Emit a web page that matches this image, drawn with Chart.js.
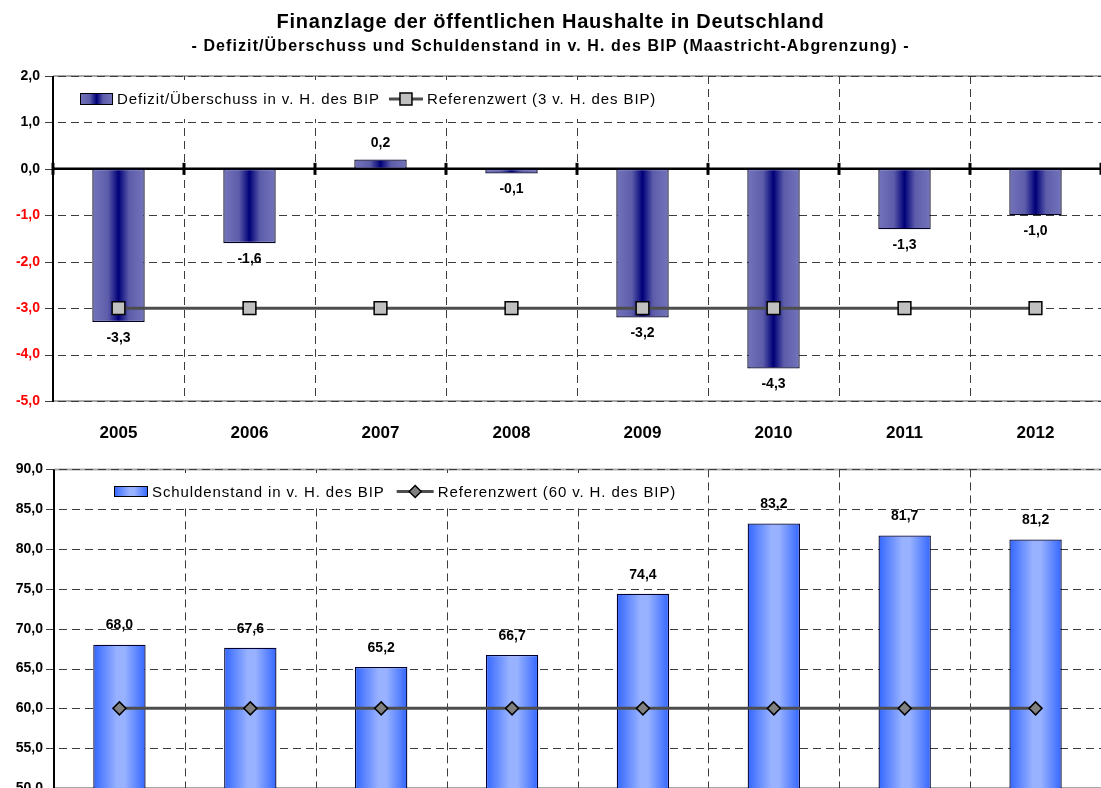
<!DOCTYPE html>
<html><head><meta charset="utf-8">
<script src="https://cdn.jsdelivr.net/npm/chart.js@4.4.1/dist/chart.umd.min.js"></script>
<style>
html,body{margin:0;padding:0;background:#fff;}
#wrap{position:relative;width:1101px;height:788px;overflow:hidden;background:#fff;}
canvas{position:absolute;left:0;display:block;}
#c1{top:0}
#c2{top:450px}
</style></head><body>
<div id="wrap"><canvas id="c1" width="1101" height="450"></canvas><canvas id="c2" width="1101" height="388"></canvas></div>
<script>
const FONT = '"Liberation Sans", Arial, Helvetica, sans-serif';

// ---- data ----
const years = ['2005', '2006', '2007', '2008', '2009', '2010', '2011', '2012'];
const deficitValues = [-3.3, -1.6, 0.2, -0.1, -3.2, -4.3, -1.3, -1.0];
const deficitReference = [-3, -3, -3, -3, -3, -3, -3, -3];
const debtValues = [68.0, 67.6, 65.2, 66.7, 74.4, 83.2, 81.7, 81.2];
const debtReference = [60, 60, 60, 60, 60, 60, 60, 60];
const deficitTicks = [2, 1, 0, -1, -2, -3, -4, -5];
const debtTicks = [90, 85, 80, 75, 70, 65, 60, 55, 50];
const titleText = 'Finanzlage der öffentlichen Haushalte in Deutschland';
const subtitleText = '- Defizit/Überschuss und Schuldenstand in v. H. des BIP (Maastricht-Abgrenzung) -';
const deficitLegend = ['Defizit/Überschuss in v. H. des BIP', 'Referenzwert (3 v. H. des BIP)'];
const debtLegend = ['Schuldenstand in v. H. des BIP', 'Referenzwert (60 v. H. des BIP)'];

// ---- styles ----
const navyStops = [[0, '#7474BC'], [0.3, '#5C5CAA'], [0.5, '#000078'], [0.7, '#5C5CAA'], [1, '#7474BC']];
const blueStops = [[0, '#3366FF'], [0.45, '#98B2FF'], [0.6, '#98B2FF'], [1, '#3366FF']];
const fmt = v => v.toFixed(1).replace('.', ',');

function barGradient(stops) {
  return function (c) {
    const chart = c.chart;
    if (!chart.chartArea || c.type !== 'data') return stops[2][1];
    const xs = chart.scales.x;
    const cx = xs.getPixelForValue(c.dataIndex);
    const w = (xs.getPixelForValue(1) - xs.getPixelForValue(0)) * 0.4;
    const g = chart.ctx.createLinearGradient(cx - w / 2, 0, cx + w / 2, 0);
    stops.forEach(s => g.addColorStop(s[0], s[1]));
    return g;
  };
}

const headlinePlugin = {
  id: 'headline',
  afterDraw(chart) {
    const { ctx, width } = chart;
    ctx.save();
    ctx.fillStyle = '#000';
    ctx.textAlign = 'center';
    ctx.textBaseline = 'middle';
    ctx.font = 'bold 20px ' + FONT;
    ctx.letterSpacing = '0.75px';
    ctx.fillText(titleText, width / 2, 22);
    ctx.font = 'bold 16px ' + FONT;
    ctx.letterSpacing = '1.1px';
    ctx.fillText(subtitleText, width / 2, 47);
    ctx.letterSpacing = '0px';
    ctx.restore();
  }
};

function framePlugin(zeroLine) {
  return {
    id: 'frame',
    beforeDatasetsDraw(chart) {
      const { ctx, chartArea: a, scales: { x, y } } = chart;
      const ln = (x1, y1, x2, y2) => { ctx.beginPath(); ctx.moveTo(x1, y1); ctx.lineTo(x2, y2); ctx.stroke(); };
      ctx.save();
      ctx.setLineDash([]);
      ctx.strokeStyle = '#A8A8A8'; ctx.lineWidth = 2;
      ln(a.left, a.top, a.right, a.top);
      ln(a.left, a.bottom, a.right, a.bottom);
      ctx.strokeStyle = '#3C3C3C'; ctx.lineWidth = 1; ctx.setLineDash([8, 5]);
      y.ticks.forEach(t => {
        const py = Math.round(y.getPixelForValue(t.value)) + 0.5;
        ln(a.left - 8, py, a.right, py);
      });
      for (let i = 1; i <= x.ticks.length; i++) {
        const px = Math.round(x.getPixelForValue(i - 0.5)) + 0.5;
        ln(px, a.top, px, a.bottom);
      }
      ctx.setLineDash([]);
      if (zeroLine) {
        const y0 = y.getPixelForValue(0);
        ctx.strokeStyle = '#000'; ctx.lineWidth = 2.5;
        ln(a.left, y0, a.right, y0);
        ctx.lineWidth = 3;
        for (let i = 0; i <= x.ticks.length; i++) {
          const px = x.getPixelForValue(i - 0.5);
          ln(px, y0 - 6, px, y0 + 6);
        }
      }
      ctx.strokeStyle = '#000'; ctx.lineWidth = 2;
      ln(a.left, a.top, a.left, a.bottom + 1);
      ctx.restore();
    }
  };
}

function labelPlugin(offsetFn) {
  return {
    id: 'valueLabels',
    afterDatasetsDraw(chart) {
      const { ctx } = chart;
      const meta = chart.getDatasetMeta(0);
      const data = chart.data.datasets[0].data;
      ctx.save();
      ctx.font = 'bold 14px ' + FONT;
      ctx.fillStyle = '#000';
      ctx.textAlign = 'center';
      ctx.textBaseline = 'middle';
      meta.data.forEach((bar, i) => {
        ctx.fillText(fmt(data[i]), bar.x, bar.y + offsetFn(data[i]));
      });
      ctx.restore();
    }
  };
}

function legendPlugin(cfg) {
  return {
    id: 'innerLegend',
    afterDraw(chart) {
      const { ctx } = chart;
      const ds = chart.data.datasets;
      ctx.save();
      ctx.fillStyle = '#fff';
      ctx.fillRect(cfg.box[0], cfg.box[1], cfg.box[2], cfg.box[3]);
      const [sx, sy, sw, sh] = cfg.swatch;
      const g = ctx.createLinearGradient(sx, 0, sx + sw, 0);
      cfg.stops.forEach(s => g.addColorStop(s[0], s[1]));
      ctx.fillStyle = g; ctx.fillRect(sx, sy, sw, sh);
      ctx.strokeStyle = '#000'; ctx.lineWidth = 1; ctx.strokeRect(sx + 0.5, sy + 0.5, sw - 1, sh - 1);
      ctx.font = '15px ' + FONT;
      ctx.letterSpacing = '0.9px';
      ctx.fillStyle = '#000';
      ctx.textAlign = 'left';
      ctx.textBaseline = 'middle';
      const cy = sy + sh / 2;
      const t1x = sx + sw + 4;
      ctx.fillText(ds[0].label, t1x, cy + 1);
      const lx = t1x + ctx.measureText(ds[0].label).width + cfg.gap;
      ctx.strokeStyle = '#4D4D4D'; ctx.lineWidth = 3;
      ctx.beginPath(); ctx.moveTo(lx, cy); ctx.lineTo(lx + cfg.lineLen, cy); ctx.stroke();
      const mx = lx + cfg.lineLen / 2;
      ctx.lineWidth = 1.5; ctx.strokeStyle = '#000'; ctx.fillStyle = cfg.markerFill;
      ctx.beginPath();
      if (cfg.marker === 'rect') {
        ctx.rect(mx - 6, cy - 6, 12, 12);
      } else {
        ctx.moveTo(mx - 6, cy); ctx.lineTo(mx, cy - 6); ctx.lineTo(mx + 6, cy); ctx.lineTo(mx, cy + 6); ctx.closePath();
      }
      ctx.fill(); ctx.stroke();
      ctx.fillStyle = '#000';
      ctx.fillText(ds[1].label, lx + cfg.lineLen + 4, cy + 1);
      ctx.letterSpacing = '0px';
      ctx.restore();
    }
  };
}

Chart.defaults.font.family = FONT;
Chart.defaults.color = '#000';

function makeChart(id, o) {
  const plugins = [framePlugin(o.zeroLine), labelPlugin(o.labelOffset), legendPlugin(o.legendCfg)];
  if (o.title) plugins.push(headlinePlugin);
  return new Chart(document.getElementById(id), {
    data: {
      labels: years,
      datasets: [
        {
          type: 'bar', label: o.legend[0], data: o.values, order: 1,
          backgroundColor: barGradient(o.stops), borderColor: o.barBorder, borderWidth: 1.3,
          borderSkipped: false, barPercentage: 0.4, categoryPercentage: 1
        },
        {
          type: 'line', label: o.legend[1], data: o.reference, order: 0,
          borderColor: '#4D4D4D', borderWidth: 3, pointStyle: o.pointStyle, pointRadius: o.pointRadius,
          pointBackgroundColor: o.pointFill, pointBorderColor: '#000', pointBorderWidth: 1.5, tension: 0
        }
      ]
    },
    options: {
      responsive: false, animation: false, events: [],
      layout: { autoPadding: false, padding: { top: o.padTop, left: 0, right: 0, bottom: 0 } },
      plugins: {
        legend: { display: false }, tooltip: { enabled: false },
        title: { display: false }, subtitle: { display: false }
      },
      scales: {
        x: {
          type: 'category', offset: true,
          grid: { display: false, drawTicks: false }, border: { display: false },
          ticks: { font: { size: 17, weight: 'bold' }, color: '#000', padding: 22, autoSkip: false, maxRotation: 0 },
          afterFit: s => { s.height = o.xHeight; }
        },
        y: {
          type: 'linear', min: o.ticks[o.ticks.length - 1], max: o.ticks[0],
          grid: { display: false, drawTicks: false }, border: { display: false },
          afterBuildTicks: s => { s.ticks = o.ticks.map(v => ({ value: v })); },
          ticks: {
            font: { size: 14, weight: 'bold' }, padding: o.yPad,
            color: c => (c.tick && c.tick.value < 0) ? '#FF0000' : '#000000',
            callback: v => fmt(v)
          },
          afterFit: s => { s.width = o.yWidth; }
        }
      }
    },
    plugins: plugins
  });
}

makeChart('c1', {
  values: deficitValues, reference: deficitReference, legend: deficitLegend, stops: navyStops,
  barBorder: '#000020', pointStyle: 'rect', pointRadius: 9, pointFill: '#C0C0C0',
  ticks: deficitTicks, title: true, padTop: 76, xHeight: 49, yWidth: 53, yPad: 13, zeroLine: true,
  labelOffset: v => v < 0 ? 16 : -16,
  legendCfg: { box: [72, 80, 620, 39], swatch: [80, 93, 33, 12], stops: navyStops, gap: 9, lineLen: 34, marker: 'rect', markerFill: '#C0C0C0' }
});

makeChart('c2', {
  values: debtValues, reference: debtReference, legend: debtLegend, stops: blueStops,
  barBorder: '#000030', pointStyle: 'rectRot', pointRadius: 6.5, pointFill: '#808080',
  ticks: debtTicks, title: false, padTop: 12, xHeight: 50, yWidth: 54, yPad: 11, zeroLine: false,
  labelOffset: v => -19,
  legendCfg: { box: [105, 473 - 450, 582, 35], swatch: [114, 486 - 450, 34, 11], stops: blueStops, gap: 12, lineLen: 37, marker: 'diamond', markerFill: '#808080' }
});
</script>
</body></html>
